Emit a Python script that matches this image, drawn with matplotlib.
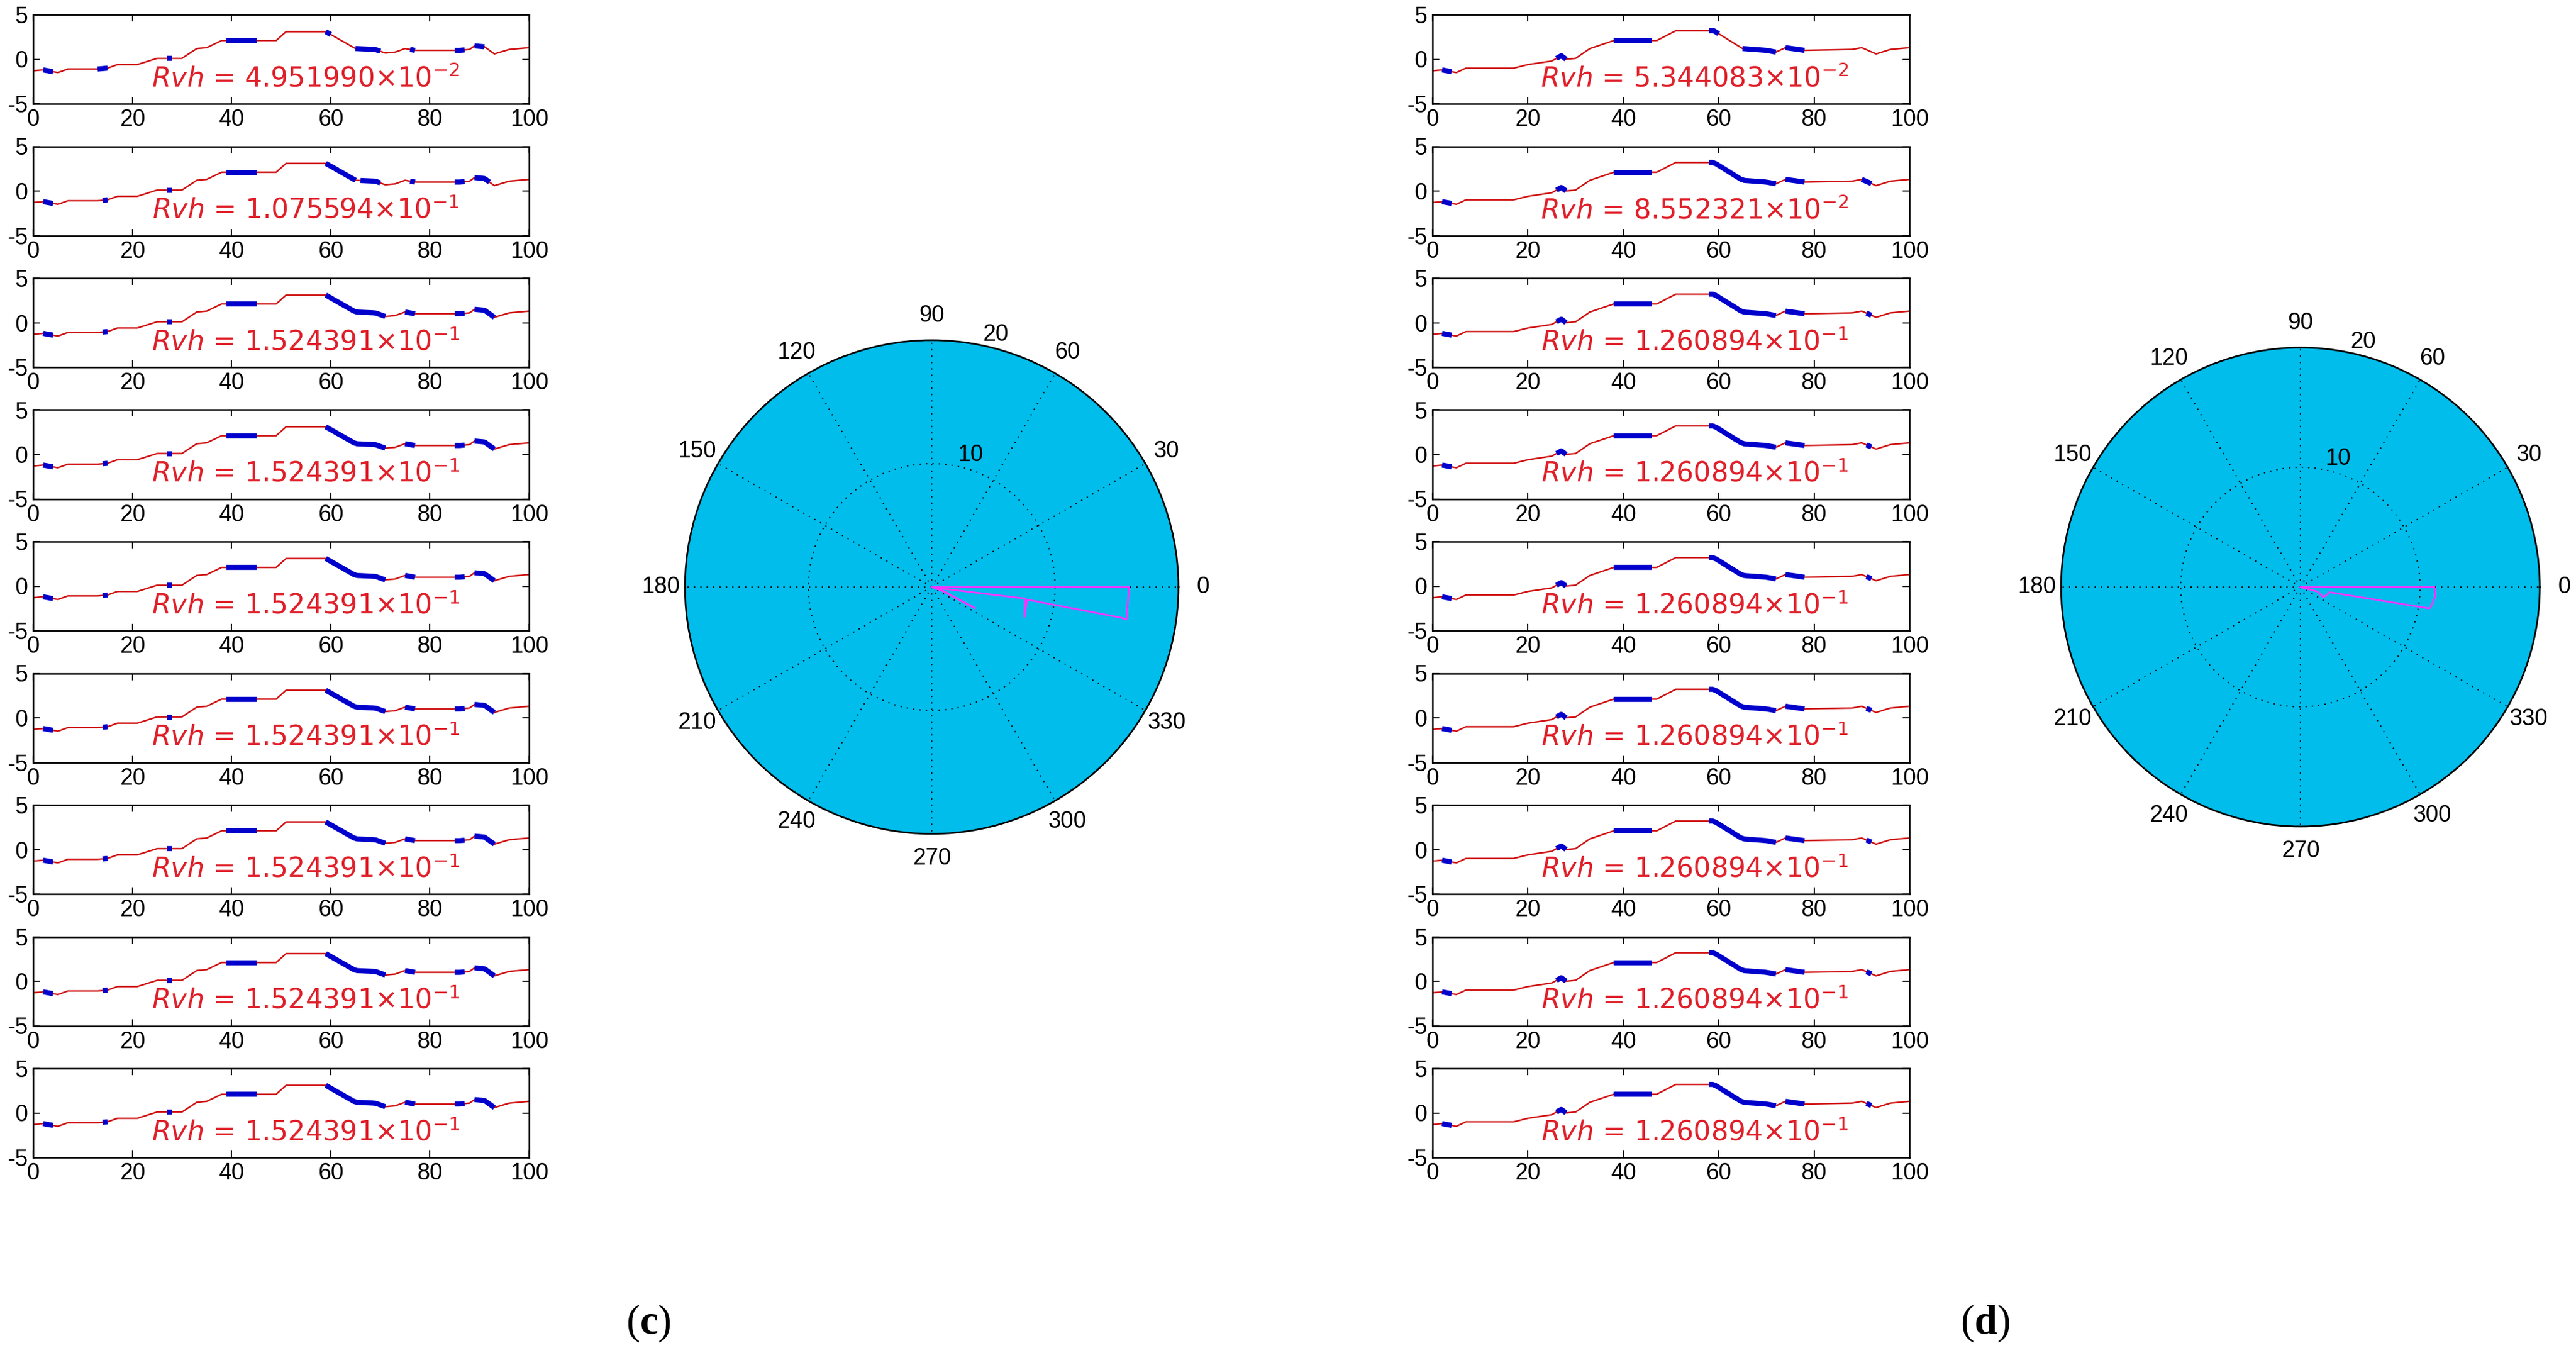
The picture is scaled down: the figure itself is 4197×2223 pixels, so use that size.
import numpy as np
import matplotlib
matplotlib.use("Agg")
import matplotlib.pyplot as plt

# ---- data ----
c_x = [0, 2, 5, 7, 13, 15, 17, 21, 25, 30, 33, 35, 38, 49, 51, 59, 65, 69, 71, 73, 75, 77, 86, 88, 89, 91, 93, 96, 100]
c_y = [-1.3, -1.2, -1.5, -1.1, -1.1, -1.0, -0.6, -0.6, 0.1, 0.1, 1.2, 1.3, 2.1, 2.1, 3.1, 3.1, 1.2, 1.1, 0.7, 0.8, 1.2, 1.0, 1.0, 1.1, 1.5, 1.4, 0.6, 1.1, 1.3]
d_x = [0, 2, 5, 7, 17, 20, 25, 27, 28, 30, 33, 38, 47, 51, 59, 65, 70, 72, 74, 78, 88, 90, 93, 96, 100]
d_y = [-1.3, -1.2, -1.5, -1.0, -1.0, -0.6, -0.2, 0.4, 0.0, 0.1, 1.2, 2.1, 2.1, 3.2, 3.2, 1.2, 1.0, 0.8, 1.3, 1.0, 1.1, 1.3, 0.6, 1.1, 1.3]

c_blue1 = [(2, 4), (13, 15), (27, 28), (39, 45), (59, 60), (65, 70), (76, 77), (85, 87), (89, 91)]
c_blue2 = [(2, 4), (14, 15), (27, 28), (39, 45), (59, 65), (66, 70), (76, 77), (85, 87), (89, 92)]
c_blue3 = [(2, 4), (14, 15), (27, 28), (39, 45), (59, 71), (75, 77), (85, 87), (89, 93)]
d_blue1 = [(2, 4), (26, 28), (38, 46), (58, 60), (65, 72), (74, 78)]
d_blue2 = [(2, 4), (26, 28), (38, 46), (58, 72), (74, 78), (90, 92)]
d_blue3 = [(2, 4), (26, 28), (38, 46), (58, 72), (74, 78), (91, 92)]

c_rvh = ["4.951990", "1.075594"] + ["1.524391"] * 7
c_exp = [-2, -1] + [-1] * 7
d_rvh = ["5.344083", "8.552321"] + ["1.260894"] * 7
d_exp = [-2, -2] + [-1] * 7

c_pol_theta = [0, 0, -9.5, -9.2, -7.5, -18, -7, -10, -26, -20, 0]
c_pol_r = [0, 16, 16, 15.6, 7.8, 7.9, 7.6, 0.5, 3.9, 1, 0]
d_pol_theta = [0, 0, -4, -9, -9.4, -10, -24, -15, 0]
d_pol_r = [0, 11.2, 11.3, 11, 10.9, 2.5, 2.1, 1.5, 0]

xticks = [0, 20, 40, 60, 80, 100]
yticks = [-5, 0, 5]

W, H = 4197, 2223
plt.rcParams['font.family'] = ['Liberation Sans Narrow', 'Liberation Sans', 'DejaVu Sans']
plt.rcParams['axes.unicode_minus'] = False
plt.rcParams['mathtext.fontset'] = 'custom'
plt.rcParams['mathtext.bf'] = 'Liberation Serif:bold'
plt.rcParams['mathtext.it'] = 'DejaVu Sans:italic'
plt.rcParams['mathtext.rm'] = 'DejaVu Sans'
fig = plt.figure(figsize=(W / 100, H / 100), dpi=100)


def px(x0, y0, w, h):
    return [x0 / W, 1 - (y0 + h) / H, w / W, h / H]


def draw_col(x0, w, xs, ys, blues, rvh, exps):
    for i in range(9):
        top = 24 + i * 214.5
        ax = fig.add_axes(px(x0, top, w, 145))
        ax.plot(xs, ys, color='#D01010', lw=1.8)
        b = blues[min(i, 2)]
        for a, e in b:
            sx = np.linspace(a, e, 20)
            ax.plot(sx, np.interp(sx, xs, ys), color='#0000CC', lw=6, solid_capstyle='butt')
        ax.set_xlim(0, 100)
        ax.set_ylim(-5, 5)
        ax.set_xticks(xticks)
        ax.set_yticks(yticks)
        ax.tick_params(labelsize=27, direction='in', length=8, width=1.5, pad=6,
                       top=True, right=True)
        for s in ax.spines.values():
            s.set_linewidth(1.8)
        ax.text(55, -2.2, r'$Rvh$' + ' = ' + rvh[i] + '×10$^{%d}$' % exps[i],
                color='#E0202A', fontsize=32, ha='center', va='center',
                family=['DejaVu Sans'])


draw_col(54, 808, c_x, c_y, [c_blue1, c_blue2, c_blue3], c_rvh, c_exp)
draw_col(2334, 777, d_x, d_y, [d_blue1, d_blue2, d_blue3], d_rvh, d_exp)


def draw_polar(cx, cy, r, th, rr):
    ax = fig.add_axes(px(cx - r, cy - r, 2 * r, 2 * r), projection='polar')
    ax.set_facecolor('#00BDEB')
    ax.plot(np.deg2rad(th), rr, color='#FF33FF', lw=2)
    ax.set_ylim(0, 20)
    ax.set_rticks([10, 20])
    ax.set_rlabel_position(78)
    ax.set_thetagrids(range(0, 360, 30), [str(a) for a in range(0, 360, 30)])
    ax.tick_params(labelsize=27, pad=18)
    ax.grid(True, color='black', ls=(0, (1, 4)), lw=1.5)
    ax.spines['polar'].set_linewidth(2)


draw_polar(1518, 956, 402, c_pol_theta, c_pol_r)
draw_polar(3748, 956, 390, d_pol_theta, d_pol_r)

for x, lab in [(1057, 'c'), (3234, 'd')]:
    fig.text(x / W, 1 - 2155 / H, '(' + r'$\mathbf{%s}$' % lab + ')', fontsize=48,
             ha='center', va='center', family=['Liberation Serif'])

fig.savefig('out.png', dpi=100)
